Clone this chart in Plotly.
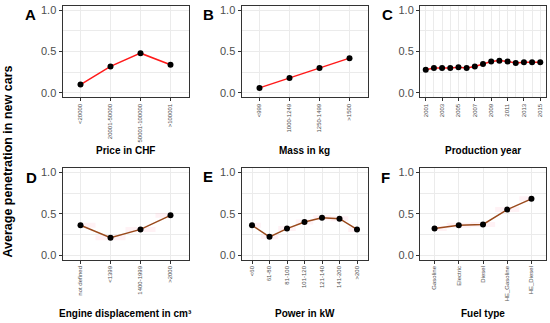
import plotly.graph_objects as go

W, H = 550, 323

# ---- data ----
price_cats = ["<20000", "20001-50000", "50001-100000", ">100001"]
price_vals = [0.10, 0.32, 0.48, 0.34]

mass_cats = ["<999", "1000-1249", "1250-1499", ">1500"]
mass_vals = [0.06, 0.18, 0.30, 0.42]

years = list(range(2001, 2016))
year_vals = [0.28, 0.30, 0.30, 0.30, 0.31, 0.30, 0.32, 0.35, 0.38, 0.39, 0.38, 0.36, 0.37, 0.37, 0.37]
year_ticks = [2001, 2003, 2005, 2007, 2009, 2011, 2013, 2015]

disp_cats = ["not defined", "<1399", "1400-1999", ">2000"]
disp_vals = [0.36, 0.21, 0.31, 0.48]
disp_err = [0.03, 0.03, 0.03, 0.03]

power_cats = ["<60", "61-80", "81-100", "101-120", "121-140", "141-200", ">200"]
power_vals = [0.36, 0.22, 0.32, 0.40, 0.45, 0.44, 0.31]
power_err = [0.03, 0.03, 0.03, 0.03, 0.03, 0.03, 0.03]

fuel_cats = ["Gasoline", "Electric", "Diesel", "HE_Gasoline", "HE_Diesel"]
fuel_vals = [0.32, 0.36, 0.37, 0.55, 0.68]
fuel_err = [0.03, 0.03, 0.03, 0.03, 0.03]

y_tickvals = [0.0, 0.5, 1.0]
y_ticktext = ["0.0", "0.5", "1.0"]

panel_letters = ["A", "B", "C", "D", "E", "F"]
x_titles = ["Price in CHF", "Mass in kg", "Production year",
            "Engine displacement in cm³", "Power in kW", "Fuel type"]
y_title = "Average penetration in new cars"

# ---- layout geometry (pixels) ----
cols = [(62.5, 188.5), (241.5, 367.5), (420, 546)]
rows = [(3.7, 96.3), (167.4, 260.0)]

def px_x(x):
    return x / W

def px_y(y):
    return 1 - y / H

RED = "#FF1A1A"
BROWN = "#9A4A1C"
RIBBON = "rgba(255,182,200,0.18)"
GRID = "#EBEBEB"
FRAME = "#333333"
TICKC = "#4D4D4D"
FONT = "Liberation Sans, Arial, sans-serif"

fig = go.Figure()

panels = [
    (price_cats, price_vals, None, RED),
    (mass_cats, mass_vals, None, RED),
    (years, year_vals, None, RED),
    (disp_cats, disp_vals, disp_err, BROWN),
    (power_cats, power_vals, power_err, BROWN),
    (fuel_cats, fuel_vals, fuel_err, BROWN),
]

layout_axes = {}
for i, (xs, ys, err, col) in enumerate(panels):
    n = i + 1
    xa = "x" if n == 1 else f"x{n}"
    ya = "y" if n == 1 else f"y{n}"
    r, c = divmod(i, 3)
    if err is not None:
        lo = [v - e for v, e in zip(ys, err)]
        hi = [v + e for v, e in zip(ys, err)]
        fig.add_trace(go.Scatter(x=xs, y=lo, mode="lines", line=dict(width=0, shape="hvh"),
                                 hoverinfo="skip", showlegend=False, xaxis=xa, yaxis=ya))
        fig.add_trace(go.Scatter(x=xs, y=hi, mode="lines", line=dict(width=0, shape="hvh"),
                                 fill="tonexty", fillcolor=RIBBON,
                                 hoverinfo="skip", showlegend=False, xaxis=xa, yaxis=ya))
    fig.add_trace(go.Scatter(x=xs, y=ys, mode="lines+markers",
                             line=dict(color=col, width=1.5),
                             marker=dict(color="black", size=6),
                             showlegend=False, xaxis=xa, yaxis=ya))

    x0, x1 = cols[c]
    y0, y1 = rows[r]
    xkey = "xaxis" if n == 1 else f"xaxis{n}"
    ykey = "yaxis" if n == 1 else f"yaxis{n}"
    common = dict(showline=True, mirror=True, linecolor=FRAME, linewidth=1,
                  ticks="outside", ticklen=3, tickcolor=FRAME, tickwidth=1,
                  showgrid=True, gridcolor=GRID, gridwidth=1, zeroline=False)
    if xs is years:
        xaxis = dict(common, domain=[px_x(x0), px_x(x1)], anchor=ya,
                     type="linear", range=[2000.3, 2015.7],
                     tickvals=year_ticks, ticktext=[str(t) for t in year_ticks],
                     tickangle=-90, tickfont=dict(size=6, color=TICKC, family=FONT),
                     minor=dict(tickvals=[y for y in years if y not in year_ticks],
                                showgrid=True, gridcolor=GRID, gridwidth=0.5, ticklen=0))
    else:
        k = len(xs)
        xaxis = dict(common, domain=[px_x(x0), px_x(x1)], anchor=ya,
                     type="category", range=[-0.6, k - 1 + 0.6],
                     tickangle=-90, tickfont=dict(size=6, color=TICKC, family=FONT))
    yaxis = dict(common, domain=[px_y(y1), px_y(y0)], anchor=xa,
                 range=[-0.055, 1.055], tickvals=y_tickvals, ticktext=y_ticktext,
                 tickfont=dict(size=11, color=TICKC, family=FONT),
                 minor=dict(tickvals=[0.25, 0.75], showgrid=True, gridcolor=GRID,
                            gridwidth=0.5, ticklen=0))
    layout_axes[xkey] = xaxis
    layout_axes[ykey] = yaxis

annotations = []
letter_pos = [(30, 13), (208, 13), (387, 13), (31, 177), (208, 176), (385, 177)]
title_y = [150, 150, 150, 314, 314, 314]
for i in range(6):
    r, c = divmod(i, 3)
    lx, ly = letter_pos[i]
    annotations.append(dict(text=f"<b>{panel_letters[i]}</b>", x=px_x(lx), y=px_y(ly),
                            xref="paper", yref="paper", showarrow=False,
                            xanchor="center", yanchor="middle",
                            font=dict(size=15, color="black", family=FONT)))
    cx = (cols[c][0] + cols[c][1]) / 2
    annotations.append(dict(text=f"<b>{x_titles[i]}</b>", x=px_x(cx), y=px_y(title_y[i]),
                            xref="paper", yref="paper", showarrow=False,
                            xanchor="center", yanchor="middle",
                            font=dict(size=10, color="black", family=FONT)))
annotations.append(dict(text=f"<b>{y_title}</b>", x=px_x(8), y=px_y(161),
                        xref="paper", yref="paper", showarrow=False, textangle=-90,
                        xanchor="center", yanchor="middle",
                        font=dict(size=12.5, color="black", family=FONT)))

fig.update_layout(width=W, height=H, margin=dict(l=0, r=0, t=0, b=0),
                  paper_bgcolor="white", plot_bgcolor="white",
                  font=dict(family=FONT), annotations=annotations, **layout_axes)

fig.write_html("out.html", config={"displayModeBar": False},
               post_script="document.body.style.margin='0';document.body.style.padding='0';")
